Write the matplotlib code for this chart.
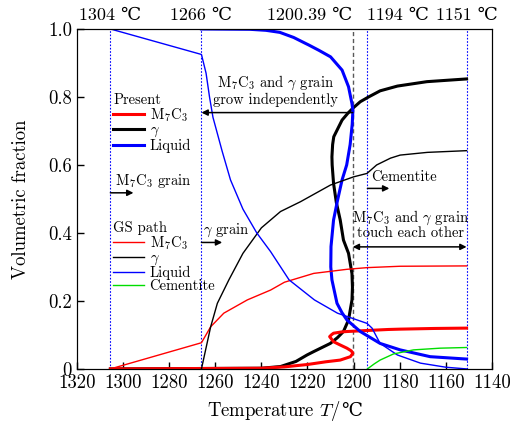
import matplotlib
matplotlib.use("Agg")
import matplotlib.pyplot as plt
from matplotlib.offsetbox import TextArea, HPacker, AnchoredOffsetbox

plt.rcParams['font.family'] = ['cmr10', 'DejaVu Serif']
plt.rcParams['mathtext.fontset'] = 'cm'
plt.rcParams['axes.unicode_minus'] = False

# present (thick) curves
pres_m7c3_T = [1305.5, 1240, 1230, 1220, 1212, 1205.8, 1201.4, 1200.3, 1201.0, 1202.9, 1206, 1208.7, 1210.4,
               1209.5, 1208.7, 1205, 1202.9, 1194.2, 1185, 1179.8, 1165, 1151]
pres_m7c3_f = [0, 0.002, 0.006, 0.013, 0.021, 0.026, 0.036, 0.046, 0.053, 0.061, 0.071, 0.08, 0.095,
               0.101, 0.105, 0.109, 0.11, 0.113, 0.116, 0.117, 0.119, 0.12]

pres_gam_T = [1305.5, 1240, 1231.7, 1225, 1220.2, 1217.3, 1214, 1210.1, 1207, 1204.4, 1202.2, 1200.7, 1200.5,
              1200.7, 1202.2, 1204.4, 1205.8, 1207.5, 1208.7, 1209.3, 1209.4, 1209.1, 1208.6, 1205, 1202.5,
              1200.3, 1197.1, 1193.5, 1188.5, 1181, 1168.2, 1151]
pres_gam_f = [0, 0.002, 0.007, 0.022, 0.041, 0.051, 0.062, 0.075, 0.092, 0.11, 0.144, 0.203, 0.24,
              0.28, 0.34, 0.379, 0.438, 0.49, 0.546, 0.6, 0.624, 0.66, 0.683, 0.732, 0.752,
              0.767, 0.786, 0.80, 0.818, 0.832, 0.845, 0.853]

pres_liq_T = [1266, 1245, 1238, 1232, 1226, 1221, 1219.5, 1215, 1210, 1205, 1202.2, 1200.7, 1200.3, 1200.6,
              1201.5, 1203, 1205, 1207, 1208.7, 1209.8, 1209.9, 1209.4, 1207.2, 1205, 1202.9, 1197.1,
              1188.5, 1179.8, 1166.8, 1151]
pres_liq_f = [1.0, 0.999, 0.996, 0.99, 0.975, 0.958, 0.953, 0.937, 0.918, 0.879, 0.83, 0.78, 0.76, 0.72,
              0.66, 0.60, 0.556, 0.495, 0.438, 0.36, 0.30, 0.262, 0.193, 0.165, 0.144, 0.11,
              0.075, 0.056, 0.036, 0.029]

# GS path (thin) curves
gs_m7c3_T = [1305.5, 1266, 1262, 1256.3, 1246.1, 1236, 1230, 1217.3, 1202.9, 1194, 1179.8, 1151]
gs_m7c3_f = [0, 0.077, 0.124, 0.164, 0.203, 0.232, 0.255, 0.281, 0.293, 0.298, 0.302, 0.303]

gs_gam_T = [1266, 1262, 1259.1, 1254.1, 1248, 1240, 1231.7, 1223, 1210, 1200, 1194.2, 1190, 1184,
            1179.8, 1168, 1151]
gs_gam_f = [0, 0.124, 0.193, 0.262, 0.34, 0.415, 0.463, 0.492, 0.541, 0.565, 0.575, 0.60, 0.62,
            0.629, 0.637, 0.642]

gs_liq_T = [1305.5, 1266, 1264, 1262.5, 1261, 1257, 1253.4, 1248, 1242, 1236, 1228, 1217, 1207,
            1194.2, 1192, 1188.5, 1181, 1171, 1160, 1151]
gs_liq_f = [1.0, 0.925, 0.87, 0.80, 0.74, 0.64, 0.556, 0.47, 0.40, 0.345, 0.262, 0.203, 0.164,
            0.134, 0.12, 0.075, 0.041, 0.017, 0.005, 0.0]

gs_cem_T = [1194, 1191, 1188.5, 1182.7, 1174, 1162.5, 1151]
gs_cem_f = [0, 0.015, 0.026, 0.044, 0.056, 0.061, 0.063]

vlines_T = [1305.5, 1266, 1194, 1151]
t_eut = 1200.39
top_T = [1305.5, 1266, 1200.39, 1194, 1151]
top_labels = ['1304 ℃', '1266 ℃', '1200.39 ℃', '1194 ℃', '1151 ℃']
top_ha = ['center', 'center', 'right', 'left', 'center']
xticks = [1320, 1300, 1280, 1260, 1240, 1220, 1200, 1180, 1160, 1140]
yticks = [0, 0.2, 0.4, 0.6, 0.8, 1.0]
ytick_labels = ['0', '0.2', '0.4', '0.6', '0.8', '1.0']

fig = plt.figure(figsize=(5.2, 4.26), dpi=100)
ax = fig.add_axes([0.148, 0.134, 0.798, 0.798])

for t in vlines_T:
    ax.axvline(t, color='blue', ls=(0, (1.5, 1.5)), lw=0.8)
ax.axvline(t_eut, color='0.35', ls=(0, (3, 2)), lw=1.0)

l1, = ax.plot(pres_gam_T, pres_gam_f, color='black', lw=2.2)
l2, = ax.plot(pres_m7c3_T, pres_m7c3_f, color='red', lw=2.2)
l3, = ax.plot(pres_liq_T, pres_liq_f, color='blue', lw=2.2)

g1, = ax.plot(gs_m7c3_T, gs_m7c3_f, color='red', lw=1.0)
g2, = ax.plot(gs_gam_T, gs_gam_f, color='black', lw=1.0)
g3, = ax.plot(gs_liq_T, gs_liq_f, color='blue', lw=1.0)
g4, = ax.plot(gs_cem_T, gs_cem_f, color='#00dd00', lw=1.0)

ax.set_xlim(1320, 1140)
ax.set_ylim(0, 1.0)
ax.set_xticks(xticks)
ax.set_xticklabels([str(x) for x in xticks])
ax.set_yticks(yticks)
ax.set_yticklabels(ytick_labels)
ax.tick_params(direction='in', labelsize=13.5, length=5, width=1)
ax.set_ylabel('Volumetric fraction', fontsize=13.5, labelpad=13)

# x label: mathtext part + plain ℃ (cm math fonts have no ℃ glyph)
xl = HPacker(children=[TextArea('Temperature $T$/', textprops=dict(fontsize=13.5)),
                       TextArea('℃', textprops=dict(fontsize=13.5))],
             align='baseline', pad=0, sep=0)
ax.add_artist(AnchoredOffsetbox(loc='center', child=xl, bbox_to_anchor=(0.5, -0.125),
                                bbox_transform=ax.transAxes, frameon=False, pad=0, borderpad=0))

top = ax.twiny()
top.set_xlim(ax.get_xlim())
top.set_xticks(top_T)
top.set_xticklabels(top_labels, fontsize=13)
top.tick_params(length=0, pad=4)
for lab, ha in zip(top.get_xticklabels(), top_ha):
    lab.set_ha(ha)

leg_kw = dict(loc='upper left', frameon=False, fontsize=10.5, title_fontsize=10.5, alignment='left',
              handlelength=2.1, handletextpad=0.4, labelspacing=-0.05, borderpad=0, borderaxespad=0)
leg1 = ax.legend([l2, l1, l3], ['M$_7$C$_3$', r'$\gamma$', 'Liquid'], title='Present',
                 bbox_to_anchor=(0.087, 0.81), **leg_kw)
ax.add_artist(leg1)
ax.legend([g1, g2, g3, g4], ['M$_7$C$_3$', r'$\gamma$', 'Liquid', 'Cementite'], title='GS path',
          bbox_to_anchor=(0.087, 0.435), **leg_kw)

arrow = dict(arrowstyle='-|>', color='black', lw=1.1, mutation_scale=9, shrinkA=0, shrinkB=0)
arrow2 = dict(arrowstyle='<|-|>', color='black', lw=1.1, mutation_scale=9, shrinkA=0, shrinkB=0)

ax.annotate('', xy=(1295.5, 0.518), xytext=(1305.5, 0.518), arrowprops=arrow)
ax.text(1303.5, 0.527, 'M$_7$C$_3$ grain', fontsize=10.5, ha='left', va='bottom')

ax.annotate('', xy=(1257, 0.372), xytext=(1266, 0.372), arrowprops=arrow)
ax.text(1265.5, 0.382, r'$\gamma$ grain', fontsize=10.5, ha='left', va='bottom')

ax.annotate('', xy=(1266, 0.754), xytext=(t_eut, 0.754), arrowprops=arrow)
ax.text(1234, 0.77, 'M$_7$C$_3$ and $\\gamma$ grain\ngrow independently', fontsize=10.5,
        ha='center', va='bottom', linespacing=1.05)

ax.annotate('', xy=(1184.5, 0.531), xytext=(1194, 0.531), arrowprops=arrow)
ax.text(1192.5, 0.543, 'Cementite', fontsize=10.5, ha='left', va='bottom')

ax.annotate('', xy=(1151, 0.359), xytext=(t_eut, 0.359), arrowprops=arrow2)
ax.text(1175.5, 0.378, 'M$_7$C$_3$ and $\\gamma$ grain\ntouch each other', fontsize=10.5,
        ha='center', va='bottom', linespacing=1.0)

fig.savefig('out.png', dpi=100)
